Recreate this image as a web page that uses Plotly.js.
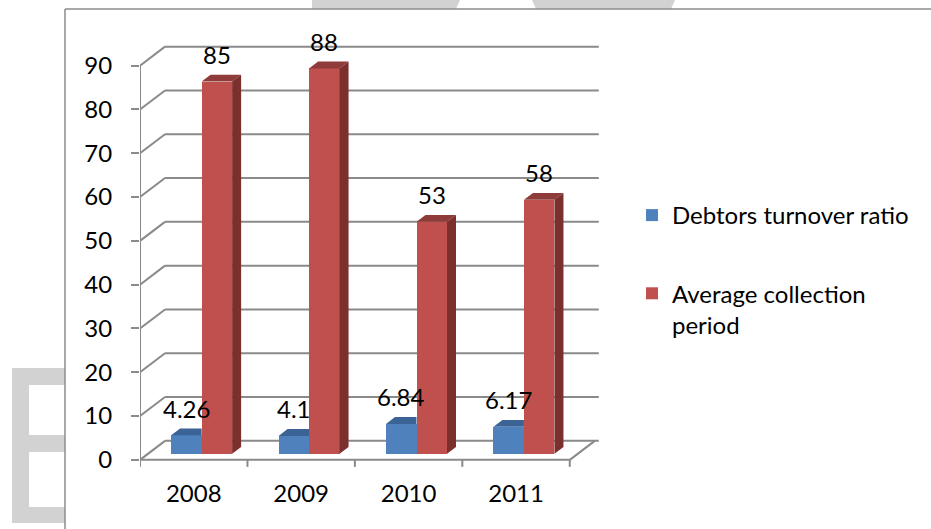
<!DOCTYPE html>
<html>
<head>
<meta charset="utf-8">
<script src="https://cdn.plot.ly/plotly-3.0.1.min.js"></script>
<style>html,body{margin:0;padding:0;background:#fff;}#chart{width:931px;height:529px;}</style>
</head>
<body>
<div id="chart"></div>
<script>
// ---- data ----
const years = ['2008', '2009', '2010', '2011'];
const debtorsTurnover = [4.26, 4.1, 6.84, 6.17];
const avgCollection = [85, 88, 53, 58];
const yTickVals = [0, 10, 20, 30, 40, 50, 60, 70, 80, 90];
const seriesNames = ['Debtors turnover ratio', 'Average collection<br>period'];

// ---- layout geometry ----
const W = 931, H = 529;
const M = {l: 140, r: 329, t: 35, b: 56};
const PW = W - M.l - M.r, PH = H - M.t - M.b;
const XR = [-0.5, 3.8], YR = [-3, 97];
const pxPerX = PW / (XR[1] - XR[0]);
const pxPerY = PH / (YR[1] - YR[0]);
const ux = p => p / pxPerX;           // px -> x units
const uy = p => p / pxPerY;           // px -> y units
const DX = ux(25), DY = uy(19);       // wall depth
const SX = ux(7.9), SY = uy(6);       // bar front offset in depth
const BDX = ux(9), BDY = uy(6.8);     // bar depth
const BW = ux(30.5);                  // bar width
const FONT = 'Lato, "Open Sans", sans-serif';
const FS = 24;
const GRID = '#8a8a8a';
const xi = years.map((_, i) => i);
const blueOff = SX - BW, redOff = SX;

const paperX = p => (p - M.l) / PW;
const paperY = p => (M.t + PH - p) / PH;

// ---- faces ----
function facesTop(vals, off, clip) {
  const xs = [], ys = [];
  vals.forEach((v, i) => {
    const x0 = i + off, x1 = x0 + BW, T = v + SY;
    if (clip) { xs.push(x0, x1, x1, x0 + BDX, x0, null); }
    else { xs.push(x0, x1, x1 + BDX, x0 + BDX, x0, null); }
    ys.push(T, T, T + BDY, T + BDY, T, null);
  });
  return {xs, ys};
}
function facesSide(vals, off) {
  const xs = [], ys = [];
  vals.forEach((v, i) => {
    const x1 = i + off + BW, T = v + SY;
    xs.push(x1, x1, x1 + BDX, x1 + BDX, x1, null);
    ys.push(SY, T, T + BDY, SY + BDY, SY, null);
  });
  return {xs, ys};
}
const bt = facesTop(debtorsTurnover, blueOff, true);
const rt = facesTop(avgCollection, redOff, false);
const rs = facesSide(avgCollection, redOff);

const data = [
  {type: 'bar', name: seriesNames[0], x: xi, y: debtorsTurnover, base: SY,
   offset: blueOff, width: BW, marker: {color: '#4F81BD', line: {width: 0}},
   legendgroup: 'a', hoverinfo: 'skip'},
  {type: 'bar', name: seriesNames[1], x: xi, y: avgCollection, base: SY,
   offset: redOff, width: BW, marker: {color: '#C0504D', line: {width: 0}},
   legendgroup: 'b', hoverinfo: 'skip'},
  {type: 'scatter', mode: 'lines', x: bt.xs, y: bt.ys, fill: 'toself', fillcolor: '#3B6395',
   line: {width: 0}, showlegend: false, hoverinfo: 'skip'},
  {type: 'scatter', mode: 'lines', x: rt.xs, y: rt.ys, fill: 'toself', fillcolor: '#8F3B39',
   line: {width: 0}, showlegend: false, hoverinfo: 'skip'},
  {type: 'scatter', mode: 'lines', x: rs.xs, y: rs.ys, fill: 'toself', fillcolor: '#7C302E',
   line: {width: 0}, showlegend: false, hoverinfo: 'skip'}
];

// ---- shapes: walls, grid, floor ----
const shapes = [];
const ln = (x0, y0, x1, y1) => ({type: 'line', xref: 'x', yref: 'y', x0, y0, x1, y1,
  line: {color: GRID, width: 2}, layer: 'below'});
const gridEnd = 3.5 + DX + ux(4);
yTickVals.forEach(v => {
  shapes.push(ln(-0.5 + DX, v + DY, gridEnd, v + DY));
  shapes.push(ln(-0.5, v, -0.5 + DX, v + DY));
});
shapes.push(ln(-0.5, 0, -0.5, yTickVals[yTickVals.length - 1]));
shapes.push(ln(-0.5, 0, years.length - 0.5, 0));
shapes.push(ln(years.length - 0.5, 0, years.length - 0.5 + DX, DY));
for (let i = 0; i <= years.length; i++) shapes.push(ln(i - 0.5, 0, i - 0.5, -uy(7)));

// watermark (light grey) and chart frame, in paper coords
const wm = '#d2d2d2';
const prect = (x0, y0, x1, y1, color) => ({type: 'rect', xref: 'paper', yref: 'paper',
  x0: paperX(x0), x1: paperX(x1), y0: paperY(y0), y1: paperY(y1),
  fillcolor: color, line: {width: 0}, layer: 'below'});
const ppath = (pts, color) => ({type: 'path', xref: 'paper', yref: 'paper',
  path: 'M' + pts.map(p => paperX(p[0]) + ',' + paperY(p[1])).join('L') + 'Z',
  fillcolor: color, line: {width: 0}, layer: 'below'});
shapes.push(ppath([[312, 0], [460, 0], [456, 9], [312, 9]], wm));
shapes.push(ppath([[532, 0], [675, 0], [671, 9], [536, 9]], wm));
shapes.push(prect(12, 368, 65, 385, wm));
shapes.push(prect(12, 368, 29, 523, wm));
shapes.push(prect(12, 435, 65, 452, wm));
shapes.push(prect(12, 507, 65, 523, wm));
shapes.push({type: 'line', xref: 'paper', yref: 'paper', x0: paperX(65), y0: paperY(9),
  x1: paperX(935), y1: paperY(9), line: {color: '#8c8c8c', width: 1.5}, layer: 'below'});
shapes.push({type: 'line', xref: 'paper', yref: 'paper', x0: paperX(65), y0: paperY(9),
  x1: paperX(65), y1: paperY(535), line: {color: '#8c8c8c', width: 1.5}, layer: 'below'});

// ---- data labels ----
const annotations = [];
const addLabels = (vals, off) => vals.forEach((v, i) => annotations.push({
  x: i + off + BW / 2, y: v + SY, xref: 'x', yref: 'y', text: String(v), showarrow: false,
  xanchor: 'center', yanchor: 'middle', yshift: 27, font: {family: FONT, size: FS, color: '#000'}}));
addLabels(debtorsTurnover, blueOff);
addLabels(avgCollection, redOff);

const layout = {
  width: W, height: H, margin: M,
  paper_bgcolor: '#fff', plot_bgcolor: 'rgba(0,0,0,0)',
  font: {family: FONT, size: FS, color: '#000'},
  showlegend: true,
  legend: {x: paperX(632), y: paperY(193), xanchor: 'left', yanchor: 'top',
    font: {family: FONT, size: FS, color: '#000'}, tracegroupgap: 44, valign: 'top',
    bgcolor: 'rgba(0,0,0,0)'},
  xaxis: {range: XR, tickvals: xi, ticktext: years, ticks: '', showgrid: false,
    zeroline: false, showline: false, ticklabelstandoff: 4, fixedrange: true},
  yaxis: {range: YR, tickvals: yTickVals, ticks: 'outside', ticklen: 8, tickwidth: 2,
    tickcolor: GRID, showgrid: false, zeroline: false, showline: false,
    ticklabelstandoff: 14, fixedrange: true},
  shapes, annotations, bargap: 0
};
Plotly.newPlot('chart', data, layout, {displayModeBar: false, staticPlot: true});
</script>
</body>
</html>
